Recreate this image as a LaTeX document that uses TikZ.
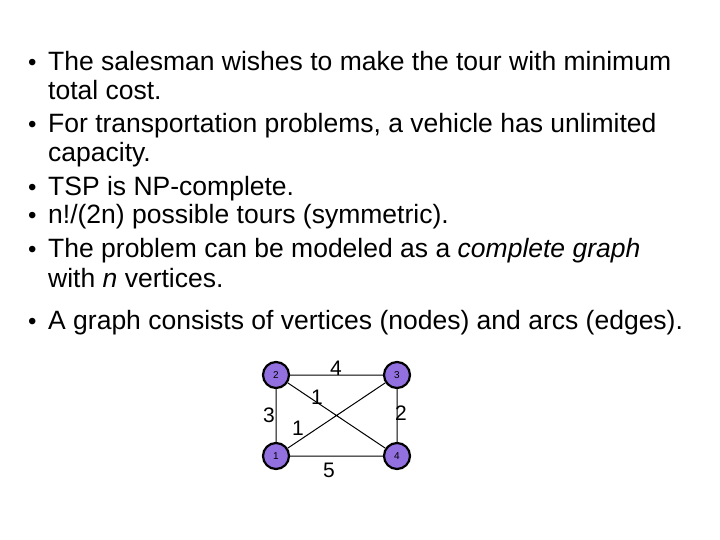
\documentclass[tikz,border=0pt]{standalone}
\usepackage{fontspec}
\setmainfont{Liberation Sans}
\definecolor{vfill}{HTML}{9370E0}
\begin{document}
\begin{tikzpicture}[x=1pt,y=-1pt,
  bl/.style={anchor=base west,font=\fontsize{26.5}{30}\selectfont,inner sep=0pt},
  bu/.style={anchor=base west,font=\fontsize{24}{26}\selectfont,inner sep=0pt},
  vx/.style={circle,draw=black,line width=2.2pt,fill=vfill,minimum size=26pt,inner sep=0pt,font=\fontsize{10}{10}\selectfont},
  ed/.style={line width=1pt},
  wl/.style={font=\fontsize{21}{21}\selectfont,inner sep=0pt}]
\useasboundingbox[fill=white] (0,0) rectangle (720,540);
\node[bu] (b1) at (28,71) {•}; \node[bl] (t1) at (48,71) {The salesman wishes to make the tour with minimum};
\node[bl] (t1b) at (48,100) {total cost.};
\node[bu] (b2) at (28,133) {•}; \node[bl] (t2) at (48,133) {For transportation problems, a vehicle has unlimited};
\node[bl] (t2b) at (48,162) {capacity.};
\node[bu] (b3) at (28,196) {•}; \node[bl] (t3) at (48,196) {TSP is NP-complete.};
\node[bu] (b4) at (28,224) {•}; \node[bl] (t4) at (48,224) {n!/(2n) possible tours (symmetric).};
\node[bu] (b5) at (28,258) {•}; \node[bl] (t5) at (48,258) {The problem can be modeled as a \textit{complete graph}};
\node[bl] (t5b) at (48,287) {with \textit{n} vertices.};
\node[bu] (b6) at (28,329) {•}; \node[bl] (t6) at (48,329) {A graph consists of vertices (nodes) and arcs (edges).};
\node[vx] (n2) at (276,375) {2};
\node[vx] (n3) at (397,375) {3};
\node[vx] (n1) at (276,456) {1};
\node[vx] (n4) at (397,456) {4};
\draw[ed] (n2)--(n3) (n3)--(n4) (n4)--(n1) (n1)--(n2) (n2)--(n4) (n1)--(n3);
\node[wl] (w4) at (336,368) {4};
\node[wl] (w3) at (269,415) {3};
\node[wl] (wa) at (317,397) {1};
\node[wl] (w2) at (401,413) {2};
\node[wl] (wb) at (298,428) {1};
\node[wl] (w5) at (329,470) {5};
\end{tikzpicture}
\end{document}
